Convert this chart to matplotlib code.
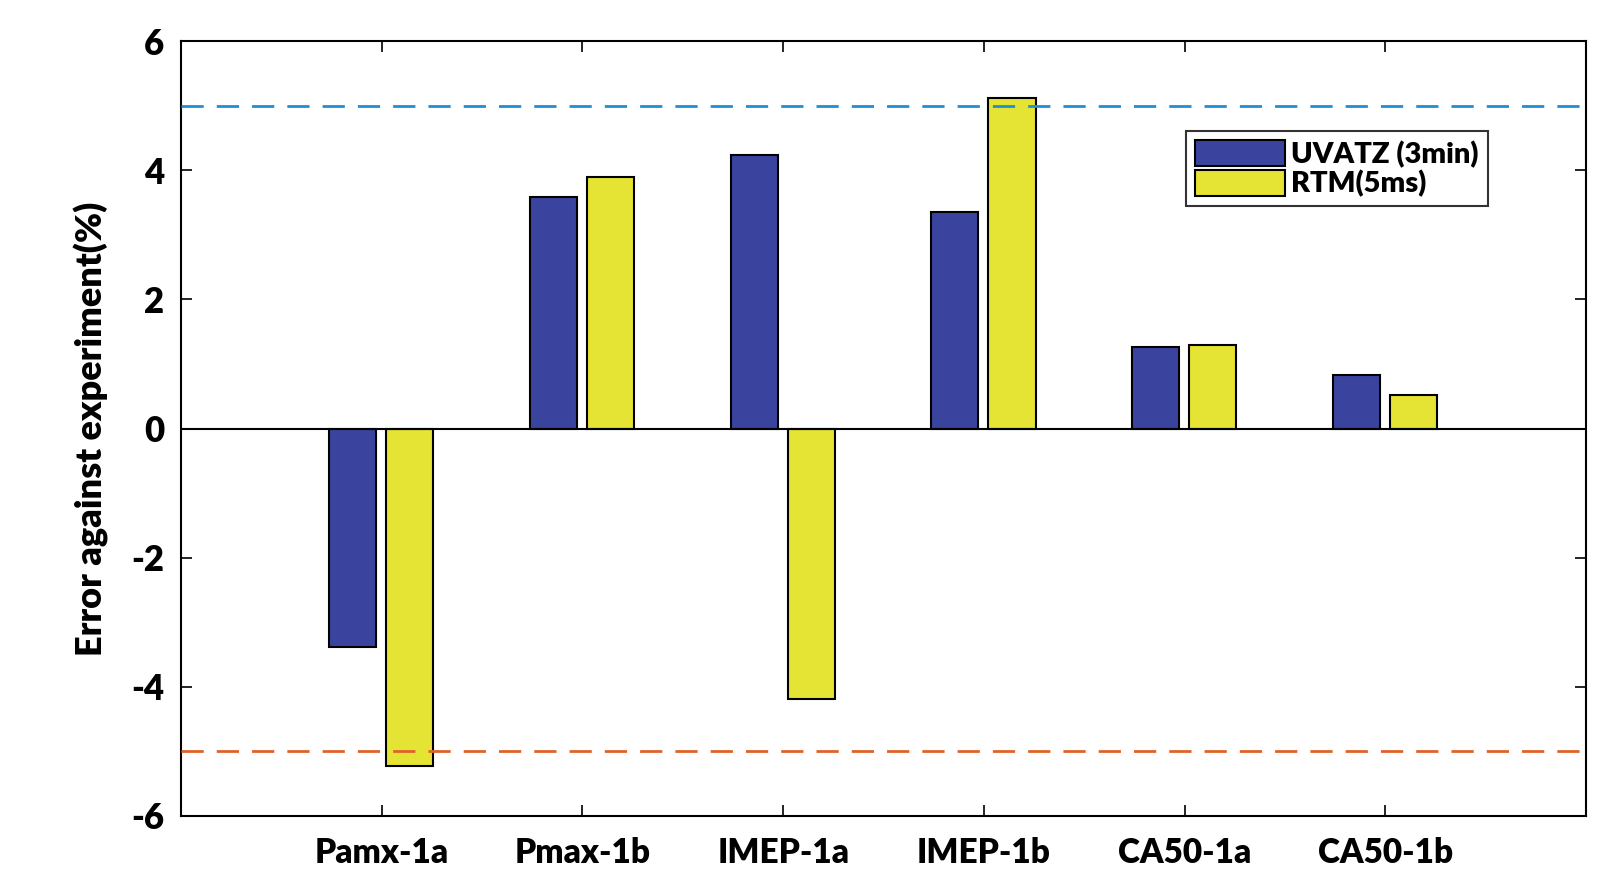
import numpy as np
import matplotlib
matplotlib.use('Agg')
from matplotlib import pyplot as plt

categories = ['Pamx-1a', 'Pmax-1b', 'IMEP-1a', 'IMEP-1b', 'CA50-1a', 'CA50-1b']
uvatz = [-3.39, 3.58, 4.24, 3.36, 1.26, 0.83]
rtm = [-5.23, 3.90, -4.19, 5.12, 1.29, 0.52]
upper_limit = 5
lower_limit = -5

plt.rcParams['font.family'] = ['Lato', 'DejaVu Sans']
plt.rcParams['font.weight'] = 'heavy'
plt.rcParams['axes.unicode_minus'] = False

fig = plt.figure(figsize=(15.97, 8.73), dpi=100)
ax = fig.add_axes([0.1134, 0.0653, 0.8797, 0.8877])

x = np.arange(1, len(categories) + 1)
w = 0.235
ax.bar(x - 0.145, uvatz, w, color='#3a449e', edgecolor='black', linewidth=1.5,
       label='UVATZ (3min)', zorder=2)
ax.bar(x + 0.14, rtm, w, color='#e5e333', edgecolor='black', linewidth=1.5,
       label='RTM(5ms)', zorder=2)

ax.axhline(0, color='black', linewidth=1.5, zorder=3)
ax.axhline(upper_limit, color='#1f8fd4', linestyle=(0, (8, 4.7)), linewidth=2, zorder=3)
ax.axhline(lower_limit, color='#e0622a', linestyle=(0, (8, 4.7)), linewidth=2, zorder=3)

ax.set_xlim(0, 7)
ax.set_ylim(-6, 6)
ax.set_xticks(x)
ax.set_xticklabels(categories)
ax.set_yticks(np.arange(-6, 7, 2))
ax.tick_params(axis='both', direction='in', length=8, width=1.2,
               top=True, right=True, labelsize=25, pad=12)
ax.tick_params(axis='x', labelsize=24, pad=15)
for lbl in ax.get_xticklabels() + ax.get_yticklabels():
    lbl.set_fontweight('heavy')
ax.set_ylabel('Error against experiment(%)', fontsize=26, fontweight='heavy', labelpad=16)
for s in ax.spines.values():
    s.set_linewidth(1.5)

leg = ax.legend(loc='upper left', bbox_to_anchor=(0.7155, 0.8835), fontsize=21,
                frameon=True, fancybox=False, edgecolor='black',
                handlelength=3.1, handleheight=1.0, handletextpad=0.2,
                borderpad=0.3, labelspacing=0.05, borderaxespad=0)
leg.get_frame().set_linewidth(1.5)
for t in leg.get_texts():
    t.set_fontweight('heavy')

fig.savefig('out.png', dpi=100)
